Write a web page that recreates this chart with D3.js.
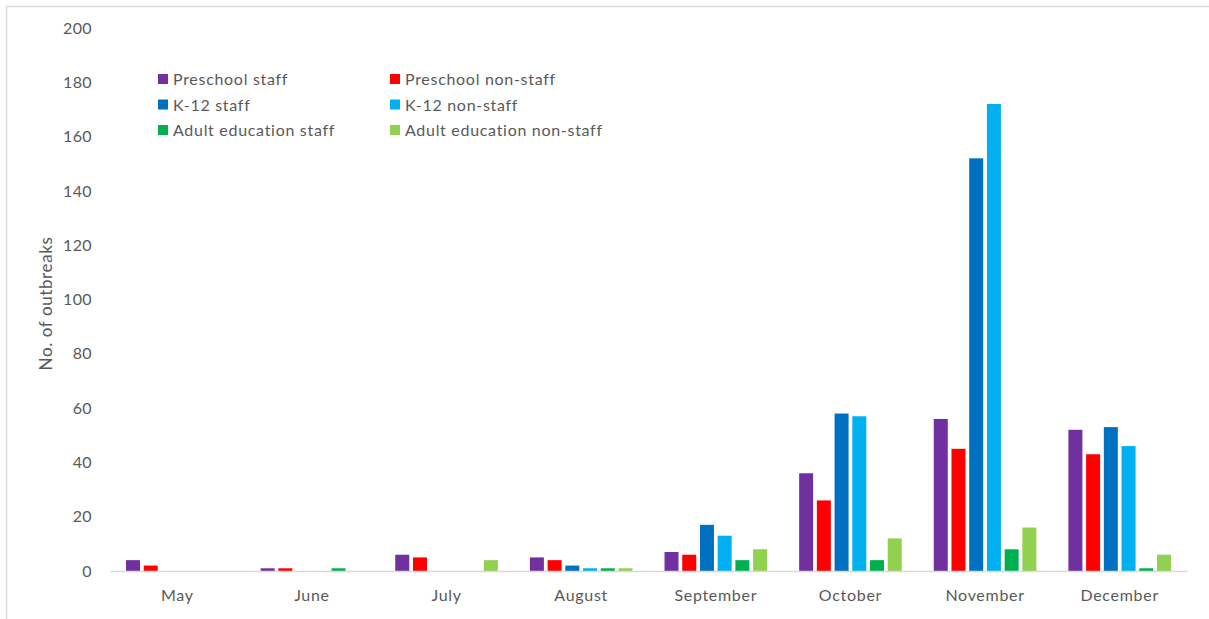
<!DOCTYPE html>
<html>
<head>
<meta charset="utf-8">
<script src="https://cdn.jsdelivr.net/npm/d3@7"></script>
<style>
  body { margin: 0; background: #fff; }
  svg text { font-family: Lato, "Open Sans", sans-serif; fill: #595959; }
</style>
</head>
<body>
<svg width="1209" height="619"></svg>
<script>
const width = 1209, height = 619;
const marginTop = 28;
const marginLeft = 110;
const plotRight = 1187;
const plotBottom = 571;

const months = ["May", "June", "July", "August", "September", "October", "November", "December"];
const seriesNames = ["Preschool staff", "Preschool non-staff", "K-12 staff", "K-12 non-staff",
                     "Adult education staff", "Adult education non-staff"];
const colors = ["#7030A0", "#FF0000", "#0070C0", "#00B0F0", "#00B050", "#92D050"];
const yTicks = [0, 20, 40, 60, 80, 100, 120, 140, 160, 180, 200];

// values per series, in month order
const preschoolStaff    = [4, 1, 6, 5, 7, 36, 56, 52];
const preschoolNonStaff = [2, 1, 5, 4, 6, 26, 45, 43];
const k12Staff          = [0, 0, 0, 2, 17, 58, 152, 53];
const k12NonStaff       = [0, 0, 0, 1, 13, 57, 172, 46];
const adultStaff        = [0, 1, 0, 1, 4, 4, 8, 1];
const adultNonStaff     = [0, 0, 4, 1, 8, 12, 16, 6];

const seriesValues = [preschoolStaff, preschoolNonStaff, k12Staff, k12NonStaff, adultStaff, adultNonStaff];

const svg = d3.select("svg");

// outer chart border (only top and left visible)
svg.append("rect")
    .attr("x", 6.5)
    .attr("y", 6.5)
    .attr("width", width + 20)
    .attr("height", height + 20)
    .attr("fill", "none")
    .attr("stroke", "#d9d9d9")
    .attr("stroke-width", 1.5);

// scales
const x0 = d3.scaleBand()
    .domain(months)
    .range([marginLeft, plotRight])
    .paddingInner(0.238)
    .paddingOuter(0.119);

const x1 = d3.scaleBand()
    .domain(seriesNames)
    .range([0, x0.bandwidth()])
    .paddingInner(0.21)
    .paddingOuter(0);

const yScale = d3.scaleLinear()
    .domain([0, 200])
    .range([plotBottom, marginTop]);

// y axis (labels only)
const yAxis = d3.axisLeft(yScale)
    .tickValues(yTicks)
    .tickSize(0)
    .tickPadding(0);

svg.append("g")
    .attr("transform", `translate(92, 0)`)
    .call(yAxis)
    .call(g => g.select(".domain").remove())
    .selectAll("text")
    .style("font-size", "16px")
    .style("letter-spacing", "0.4px")
    .attr("fill", "#595959")
    .style("font-family", "Lato, 'Open Sans', sans-serif");

svg.append("text")
    .attr("transform", "rotate(-90)")
    .attr("x", -(marginTop + plotBottom) / 2 - 4)
    .attr("y", 52)
    .attr("text-anchor", "middle")
    .style("font-size", "17px")
    .style("letter-spacing", "0.6px")
    .text("No. of outbreaks");

// bars
const groups = svg.append("g")
    .selectAll("g")
    .data(months)
    .join("g")
    .attr("transform", d => `translate(${x0(d)}, 0)`);

groups.selectAll("rect")
    .data((m, i) => seriesNames.map((s, j) => ({ series: s, value: seriesValues[j][i], color: colors[j] })))
    .join("rect")
    .filter(d => d.value > 0)
    .attr("x", d => x1(d.series))
    .attr("y", d => yScale(d.value))
    .attr("width", x1.bandwidth())
    .attr("height", d => yScale(0) - yScale(d.value))
    .attr("fill", d => d.color);

// x axis
const xAxis = d3.axisBottom(x0)
    .tickSize(0)
    .tickPadding(19);

svg.append("g")
    .attr("transform", `translate(0, ${plotBottom})`)
    .call(xAxis)
    .call(g => g.select(".domain").attr("stroke", "#d9d9d9").attr("stroke-width", 1.5))
    .selectAll("text")
    .style("font-size", "16px")
    .style("letter-spacing", "0.7px")
    .attr("fill", "#595959")
    .style("font-family", "Lato, 'Open Sans', sans-serif");

// legend
const legend = svg.append("g")
    .attr("transform", "translate(158, 74)");

seriesNames.forEach((name, i) => {
    const col = i % 2, row = Math.floor(i / 2);
    const item = legend.append("g")
        .attr("transform", `translate(${col * 232}, ${row * 25.5})`);
    item.append("rect")
        .attr("x", 0)
        .attr("y", 0)
        .attr("width", 10)
        .attr("height", 10)
        .attr("fill", colors[i]);
    item.append("text")
        .attr("x", 15)
        .attr("y", 5.5)
        .attr("dy", "0.35em")
        .style("font-size", "16px")
        .style("letter-spacing", "0.7px")
        .text(name);
});
</script>
</body>
</html>
